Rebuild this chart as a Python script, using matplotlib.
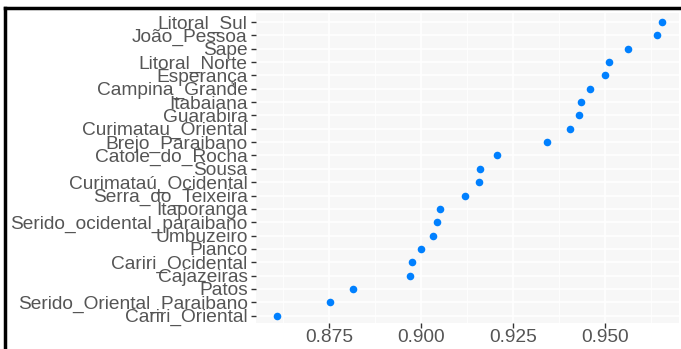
import matplotlib.pyplot as plt
from matplotlib.lines import Line2D
from matplotlib.ticker import MultipleLocator

plt.rcParams['font.family'] = ['Liberation Sans', 'DejaVu Sans']

# regioes (de baixo para cima) e valores
regioes = ['Cariri_Oriental', 'Serido_Oriental_Paraibano', 'Patos', 'Cajazeiras',
           'Cariri_Ocidental', 'Pianco', 'Umbuzeiro', 'Serido_ocidental_paraibano',
           'Itaporanga', 'Serra_do_Teixeira', 'Curimataú_Ocidental', 'Sousa',
           'Catole_do_Rocha', 'Brejo_Paraibano', 'Curimatau_Oriental', 'Guarabira',
           'Itabaiana', 'Campina_Grande', 'Esperança', 'Litoral_Norte', 'Sape',
           'João_Pessoa', 'Litoral_Sul']
valores = [0.8608, 0.8752, 0.8815, 0.8971, 0.8976, 0.9000, 0.9033, 0.9043,
           0.9053, 0.9120, 0.9157, 0.9161, 0.9207, 0.9343, 0.9405, 0.9429,
           0.9434, 0.9459, 0.9500, 0.9512, 0.9562, 0.9640, 0.9654]
xticks = [0.875, 0.900, 0.925, 0.950]

fig = plt.figure(figsize=(6.81, 3.49), dpi=100)
ax = fig.add_axes([256 / 681, 26 / 349, 423 / 681, 310 / 349])

ypos = list(range(len(regioes)))
ax.scatter(valores, ypos, s=30, color='#0080FF', zorder=3, linewidths=0)

ax.set_facecolor('#F7F7F7')
ax.set_xlim(0.8552, 0.9701)
ax.set_ylim(-0.55, len(regioes) - 1 + 0.67)
ax.set_xticks(xticks)
ax.set_xticklabels(['%.3f' % v for v in xticks])
ax.xaxis.set_minor_locator(MultipleLocator(0.0125))
ax.set_yticks(ypos)
ax.set_yticklabels(regioes)

ax.grid(which='major', color='white', linewidth=1.1)
ax.grid(which='minor', axis='x', color='white', linewidth=0.6)
ax.set_axisbelow(True)
for s in ax.spines.values():
    s.set_visible(False)
ax.tick_params(axis='both', which='major', colors='#333333', labelcolor='#555555',
               labelsize=13.8, length=3.5, width=1, pad=2.5)
ax.tick_params(axis='x', pad=1)
ax.tick_params(axis='x', which='minor', length=0)

# moldura preta (topo e esquerda)
fig.add_artist(Line2D([5 / 681, 1], [1 - 7.5 / 349, 1 - 7.5 / 349], color='black', lw=2.5,
                      transform=fig.transFigure))
fig.add_artist(Line2D([5 / 681, 5 / 681], [0, 1 - 7.5 / 349], color='black', lw=2.5,
                      transform=fig.transFigure))

fig.savefig('out.png', dpi=100)
